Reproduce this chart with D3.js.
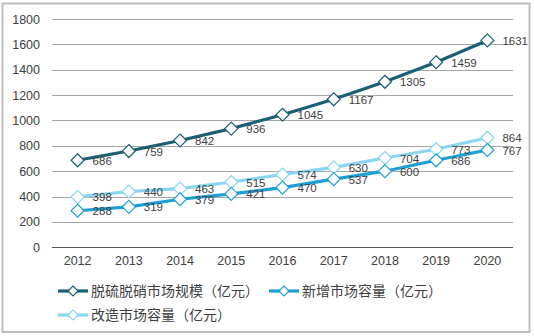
<!DOCTYPE html>
<html><head><meta charset="utf-8">
<script src="https://cdn.jsdelivr.net/npm/d3@7"></script>
<style>body{margin:0;background:#fff}svg{display:block}</style>
</head><body>
<script>
const years = ["2012","2013","2014","2015","2016","2017","2018","2019","2020"];
const totalMarket = [686,759,842,936,1045,1167,1305,1459,1631];
const newCapacity = [288,319,379,421,470,537,600,686,767];
const retrofitCapacity = [398,440,463,515,574,630,704,773,864];
const yTicks = [0,200,400,600,800,1000,1200,1400,1600,1800];
const seriesNames = ["脱硫脱硝市场规模（亿元）","新增市场容量（亿元）","改造市场容量（亿元）"];
const seriesColors = ["#1b5f74","#1d9fd4","#8ad6f2"];

const W=534,H=336;
const svg=d3.select("body").append("svg").attr("width",W).attr("height",H);
svg.append("rect").attr("x",2.5).attr("y",3.5).attr("width",527).attr("height",328.5)
  .attr("fill","#fff").attr("stroke","#bdbdbd").attr("stroke-width",2);

const x=d3.scaleBand().domain(years).range([52,513]);
const y=d3.scaleLinear().domain([0,1800]).range([247.3,19]);
const font="'Liberation Sans', Arial, sans-serif";
const cjk="'Noto Sans CJK SC', sans-serif";

// gridlines
svg.append("g").selectAll("line").data(yTicks).join("line")
  .attr("x1",52).attr("x2",513).attr("y1",d=>Math.round(y(d))+0.5).attr("y2",d=>Math.round(y(d))+0.5)
  .attr("stroke",d=>d===0?"#555":"#a6a6a6").attr("stroke-width",d=>d===0?1.2:1);

// y axis labels
const yAxis=d3.axisLeft(y).tickValues(yTicks).tickFormat(d3.format("d")).tickSize(0).tickPadding(0);
const gy=svg.append("g").attr("transform","translate(40,0)").call(yAxis);
gy.select(".domain").remove();
gy.selectAll("text").attr("font-family",font).attr("font-size",12.5).attr("fill","#404040");

// x axis labels
const xAxis=d3.axisBottom(x).tickSize(0).tickPadding(0);
const gx=svg.append("g").attr("transform","translate(0,256)").call(xAxis);
gx.select(".domain").remove();
gx.selectAll("text").attr("font-family",font).attr("font-size",12.5).attr("fill","#404040");

const allSeries=[totalMarket,newCapacity,retrofitCapacity];
const line=d3.line().x((d,i)=>x(years[i])+x.bandwidth()/2).y(d=>y(d));
const diamond=(cx,cy,r)=>`M${cx},${cy-r}L${cx+r},${cy}L${cx},${cy+r}L${cx-r},${cy}Z`;

// draw in order: retrofit, new, total
[2,1,0].forEach(si=>{
  const vals=allSeries[si], col=seriesColors[si];
  const g=svg.append("g");
  g.append("path").attr("d",line(vals)).attr("fill","none").attr("stroke",col).attr("stroke-width",3.2);
  g.selectAll("path.m").data(vals).join("path").attr("class","m")
    .attr("d",(d,i)=>diamond(x(years[i])+x.bandwidth()/2,y(d),6.5))
    .attr("fill","#fff").attr("stroke",col).attr("stroke-width",1.2);
});
[0,1,2].forEach(si=>{
  const vals=allSeries[si];
  svg.append("g").selectAll("text").data(vals).join("text")
    .attr("x",(d,i)=>x(years[i])+x.bandwidth()/2+15)
    .attr("y",d=>y(d)+0.5)
    .attr("dy","0.35em")
    .attr("font-family",font).attr("font-size",11.5).attr("fill","#404040")
    .text(d=>d);
});

// legend
const legendPos=[[58,291],[269,291],[58,315]];
legendPos.forEach(([lx,ly],si)=>{
  const col=seriesColors[si];
  const g=svg.append("g");
  g.append("line").attr("x1",lx).attr("x2",lx+30).attr("y1",ly).attr("y2",ly).attr("stroke",col).attr("stroke-width",3.2);
  g.append("path").attr("d",diamond(lx+15,ly,5)).attr("fill","#fff").attr("stroke",col).attr("stroke-width",1.2);
  g.append("text").attr("x",lx+33).attr("y",ly).attr("dy","0.35em")
    .attr("font-family",cjk).attr("font-size",14).attr("fill","#404040").text(seriesNames[si]);
});
</script>
</body></html>
